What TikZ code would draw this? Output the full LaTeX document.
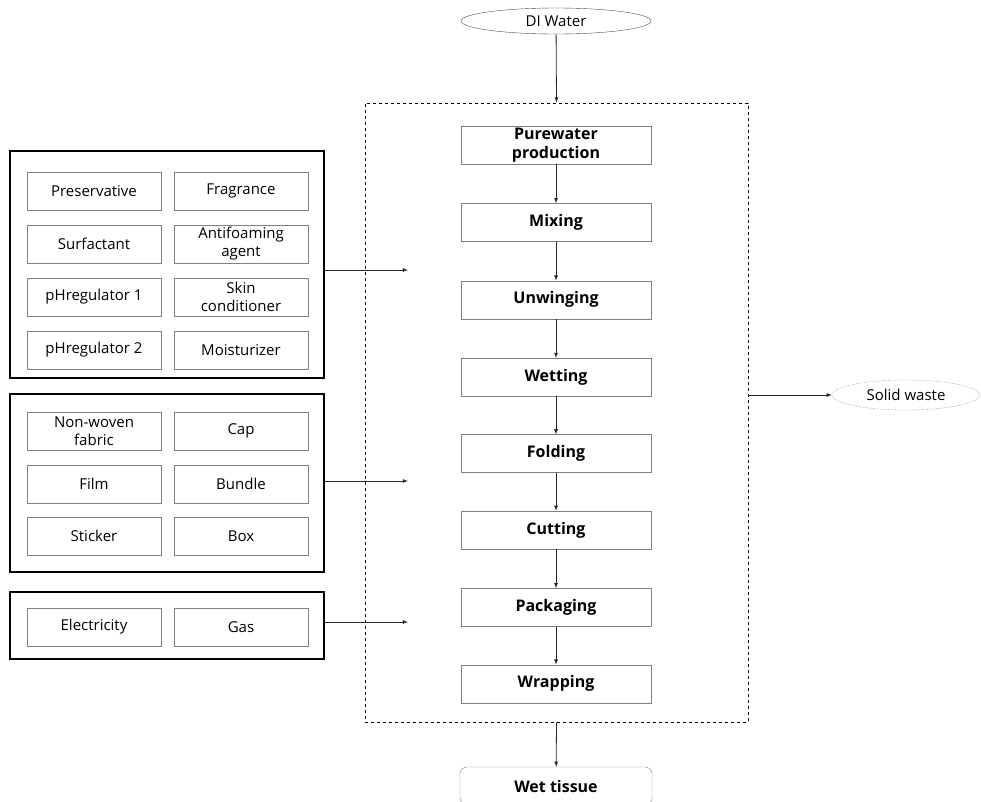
\documentclass[tikz,border=0pt]{standalone}
\usepackage{fontspec}
\setmainfont{Open Sans}
\usetikzlibrary{shapes,arrows,positioning}
\tikzset{
  every node/.style={
    font=\fontsize{15}{18}\selectfont
  },
  item/.style={
    shape=rectangle,
    draw=gray,
    minimum width=134pt,
    minimum height=38pt,
    inner sep=0pt,
    align=center
  },
  group/.style={
    shape=rectangle,
    draw=black,
    line width=1.2pt,
    minimum width=314pt
  },
  process/.style={
    shape=rectangle,
    draw=gray,
    minimum width=190pt,
    minimum height=38pt,
    inner sep=0pt,
    align=center,
    font=\fontsize{16}{19}\selectfont\bfseries
  },
  source/.style={
    shape=ellipse,
    draw=black!70,
    minimum width=190pt,
    minimum height=26pt,
    inner sep=0pt
  },
  waste/.style={
    shape=ellipse,
    draw=black!60,
    densely dotted,
    minimum width=148pt,
    minimum height=30pt,
    inner sep=0pt
  },
  product/.style={
    shape=rectangle,
    rounded corners=7pt,
    draw=gray,
    minimum width=192pt,
    minimum height=38pt,
    font=\fontsize{16}{19}\selectfont\bfseries
  },
  flow/.style={
    -latex,
    line width=0.8pt,
    draw=black!85
  }
}

\begin{document}
\begin{tikzpicture}[x=1pt,y=-1pt]
\useasboundingbox (0,0) rectangle (981,801);

% plant boundary
\node [draw, dashed, line width=0.8pt, minimum width=383pt, minimum height=619pt] (plant) at (556.5,412.5) {};

% inputs
\node [source] (water) at (556,21) {DI Water};

\node [group, minimum height=227pt] (chem) at (167,264.5) {};
\node [item] (pres) at (94,191) {Preservative};
\node [item] (frag) at (241,191) {Fragrance};
\node [item] (surf) at (94,244) {Surfactant};
\node [item] (anti) at (241,244) {Antifoaming\\agent};
\node [item] (ph1) at (94,297) {pHregulator 1};
\node [item] (skin) at (241,297) {Skin\\conditioner};
\node [item] (ph2) at (94,350) {pHregulator 2};
\node [item] (moist) at (241,350) {Moisturizer};

\node [group, minimum height=178pt] (pack) at (167,483) {};
\node [item] (fabric) at (94,431) {Non-woven\\fabric};
\node [item] (cap) at (241,431) {Cap};
\node [item] (film) at (94,484) {Film};
\node [item] (bundle) at (241,484) {Bundle};
\node [item] (sticker) at (94,536) {Sticker};
\node [item] (box) at (241,536) {Box};

\node [group, minimum height=67pt] (energy) at (167,625.5) {};
\node [item] (elec) at (94,627) {Electricity};
\node [item] (gas) at (241,627) {Gas};

% process steps
\node [process] (pure) at (556,145) {Purewater\\production};
\node [process, below=39pt of pure] (mix) {Mixing};
\node [process, below=39pt of mix] (unwind) {Unwinging};
\node [process, below=39pt of unwind] (wet) {Wetting};
\node [process, below=38pt of wet] (fold) {Folding};
\node [process, below=38pt of fold] (cut) {Cutting};
\node [process, below=39pt of cut] (packg) {Packaging};
\node [process, below=38pt of packg] (wrap) {Wrapping};

% outputs
\node [waste] (solid) at (906,395) {Solid waste};
\node [product] (tissue) at (556,786) {Wet tissue};

\coordinate (chemin) at (408,270);
\coordinate (packin) at (408,481);
\coordinate (energyin) at (408,622);

\draw [flow] (water) -- (plant.north);
\draw [flow] (pure) -- (mix);
\draw [flow] (mix) -- (unwind);
\draw [flow] (unwind) -- (wet);
\draw [flow] (wet) -- (fold);
\draw [flow] (fold) -- (cut);
\draw [flow] (cut) -- (packg);
\draw [flow] (packg) -- (wrap);
\draw [flow] (chem.east |- chemin) -- (chemin);
\draw [flow] (pack.east |- packin) -- (packin);
\draw [flow] (energy.east |- energyin) -- (energyin);
\draw [flow] (plant.east |- solid) -- (solid);
\draw [flow] (plant.south) -- (tissue);

\end{tikzpicture}
\end{document}
